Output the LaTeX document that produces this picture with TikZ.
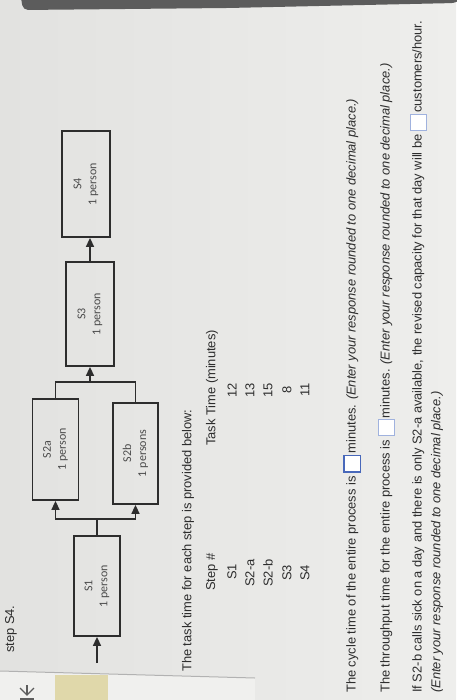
\documentclass[tikz,border=0pt]{standalone}
\usepackage{fontspec}
\setmainfont{Liberation Sans}
\newfontfamily\calfont{Carlito}
\usetikzlibrary{arrows.meta}
\usepackage{xcolor}

\definecolor{paper}{RGB}{226,226,224}
\definecolor{paperlight}{RGB}{238,238,236}
\definecolor{footer}{RGB}{240,240,238}
\definecolor{bezel}{RGB}{92,92,92}
\definecolor{ink}{RGB}{45,45,45}
\definecolor{boxink}{RGB}{45,45,45}
\definecolor{tabyellow}{RGB}{224,216,170}
\definecolor{ansdark}{RGB}{72,104,186}
\definecolor{anslight}{RGB}{160,178,222}

\newcommand{\ansbox}[2]{{\setlength{\fboxsep}{0pt}\setlength{\fboxrule}{#2}\raisebox{-4pt}{\fcolorbox{#1}{white}{\rule{0pt}{15pt}\hspace{15pt}}}}}

\tikzset{
  stage/.style={draw=boxink, line width=1.8pt, rotate=90, align=center, inner sep=0pt,
    font=\calfont\fontsize{12}{15}\selectfont, text=ink!85},
  flow/.style={draw=boxink, line width=1.6pt, -{Triangle[length=9pt,width=8pt]}},
  wire/.style={draw=boxink, line width=1.6pt},
  txt/.style={rotate=90, anchor=west, inner sep=0pt, text=ink, font=\fontsize{12.9}{15}\selectfont},
  cell/.style={rotate=90, inner sep=0pt, text=ink, font=\fontsize{12.9}{15}\selectfont}
}

\begin{document}
\begin{tikzpicture}[x=1pt,y=-1pt]
\useasboundingbox (0,0) rectangle (456,700);

% screen
{
\shade[left color=paper, right color=paperlight] (0,0) rectangle (456,700);
\fill[bezel, rounded corners=5pt] (20,-8) -- (470,-8) -- (456,3) -- (228,8) -- (23,10) -- cycle;

\fill[footer] (0,671) -- (255,678) -- (255,700) -- (0,700) -- cycle;
\draw[gray!60, line width=1pt] (0,671) -- (255,678);
\fill[tabyellow] (55,675) rectangle (108,700);

\draw[bezel, line width=1.4pt] (27,685) -- (27,695);
\draw[bezel, line width=1.4pt] (20,688) -- (27,695) -- (34,688);
\draw[bezel, line width=1.4pt] (20,699) -- (34,699);
}

\node[txt] (prev) at (11,653) {step S4.};

% stages
{
\node[stage, minimum width=100pt, minimum height=46pt] (S1) at (97,586) {S1\\1 person};
\node[stage, minimum width=101pt, minimum height=46pt] (S2a) at (55.5,449.5) {S2a\\1 person};
\node[stage, minimum width=101pt, minimum height=45pt] (S2b) at (135.5,453.5) {S2b\\1 persons};
\node[stage, minimum width=104pt, minimum height=48pt] (S3) at (90,314) {S3\\1 person};
\node[stage, minimum width=106pt, minimum height=48pt] (S4) at (86,184) {S4\\1 person};
}

% connectors
{
\coordinate (in) at (97,663);
\coordinate (fork) at (97,519);
\coordinate (join) at (90,382);

\draw[flow] (in) -- (S1.west);
\draw[wire] (S1.east) -- (fork);
\draw[flow] (fork) -| (S2a.west);
\draw[flow] (fork) -| (S2b.west);
\draw[wire] (S2a.east) |- (join) -| (S2b.east);
\draw[flow] (join) -- (S3.west);
\draw[flow] (S3.east) -- (S3.east |- S4.west);
}

% table
{
\node[txt] (intro) at (188,672) {The task time for each step is provided below:};

\node[cell] (hstep) at (212,572) {Step \#};
\node[cell] (htime) at (212,388) {Task Time (minutes)};

\node[cell] (rS1) at (232,572) {S1};
\node[cell] (rS2a) at (250,573) {S2-a};
\node[cell] (rS2b) at (268,573) {S2-b};
\node[cell] (rS3) at (287,573) {S3};
\node[cell] (rS4) at (305,573) {S4};

\node[cell] (tS1) at (232,390) {12};
\node[cell] (tS2a) at (250,390) {13};
\node[cell] (tS2b) at (268,390) {15};
\node[cell] (tS3) at (287,390) {8};
\node[cell] (tS4) at (305,390) {11};
}

% questions
{
\node[txt] (qcycle) at (352,693) {The cycle time of the entire process is \ansbox{ansdark}{1.6pt}\hspace{1pt}minutes. \textit{(Enter your response rounded to one decimal place.)}};
\node[txt] (qthru) at (386,693) {The throughput time for the entire process is \ansbox{anslight}{1pt}\hspace{1pt}minutes. \textit{(Enter your response rounded to one decimal place.)}};
\node[txt] (qsick) at (418,693) {If S2-b calls sick on a day and there is only S2-a available, the revised capacity for that day will be \ansbox{anslight}{1pt}\hspace{1pt}customers/hour.};
\node[txt] (qnote) at (437,693) {\textit{(Enter your response rounded to one decimal place.)}};
}

\end{tikzpicture}
\end{document}
